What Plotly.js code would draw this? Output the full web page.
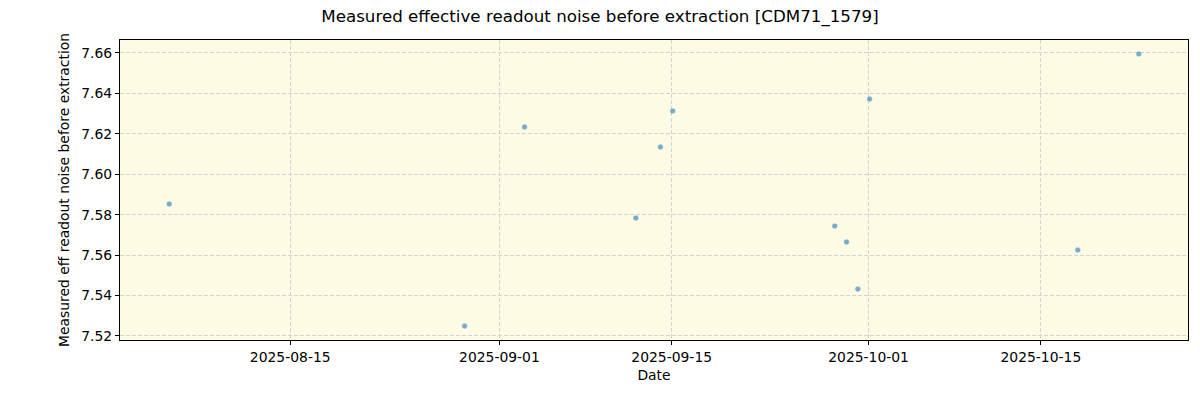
<!DOCTYPE html>
<html>
<head>
<meta charset="utf-8">
<script src="https://cdn.plot.ly/plotly-3.0.1.min.js"></script>
<style>html,body{margin:0;padding:0;background:#fff;}#chart{width:1200px;height:400px;}</style>
</head>
<body>
<div id="chart"></div>
<script>
const dates = ["2025-08-05 04:00","2025-08-29 04:00","2025-09-03 01:00","2025-09-12 02:00","2025-09-14 02:00","2025-09-15 02:00","2025-09-28 06:00","2025-09-29 05:00","2025-09-30 03:00","2025-10-01 02:00","2025-10-18 00:00","2025-10-22 23:00"];
const noise = [7.5853,7.5249,7.6234,7.5784,7.6135,7.6313,7.5744,7.5665,7.5432,7.6372,7.5625,7.6595];
const yTicks = [7.52,7.54,7.56,7.58,7.60,7.62,7.64,7.66];
const xTicks = ["2025-08-15","2025-09-01","2025-09-15","2025-10-01","2025-10-15"];

const trace = {
  x: dates, y: noise, type: "scatter", mode: "markers",
  marker: {size: 5.5, color: "rgba(31,119,180,0.6)", line: {width: 0.6, color: "rgba(255,255,255,0.5)"}},
  hoverinfo: "x+y"
};
const axisCommon = {
  showline: true, linecolor: "#000", linewidth: 1, mirror: true,
  ticks: "outside", ticklen: 4, tickcolor: "#000", tickwidth: 1,
  showgrid: true, gridcolor: "#d3d3d3", griddash: "4px,2px", gridwidth: 1,
  zeroline: false,
  tickfont: {family: "DejaVu Sans", size: 13.9, color: "#000"}
};
const layout = {
  width: 1200, height: 400,
  margin: {l: 120, r: 12, t: 40, b: 60},
  paper_bgcolor: "#fff", plot_bgcolor: "#fdfbe3",
  font: {family: "DejaVu Sans", color: "#000"},
  title: {text: "Measured effective readout noise before extraction [CDM71_1579]", x: 0.5, xanchor: "center", y: 0.96, yanchor: "middle", font: {size: 16.7, family: "DejaVu Sans"}},
  xaxis: Object.assign({}, axisCommon, {
    type: "date", range: ["2025-08-01 04:00", "2025-10-26 23:00"],
    tickvals: xTicks, ticktext: xTicks,
    title: {text: "Date", font: {size: 13.9}, standoff: 6}
  }),
  yaxis: Object.assign({}, axisCommon, {
    range: [7.518, 7.6664],
    tickvals: yTicks, ticktext: yTicks.map(v => v.toFixed(2)),
    title: {text: "Measured eff readout noise before extraction", font: {size: 13.9}, standoff: 8}
  }),
  showlegend: false
};
Plotly.newPlot("chart", [trace], layout, {displayModeBar: false, staticPlot: true});
</script>
</body>
</html>
